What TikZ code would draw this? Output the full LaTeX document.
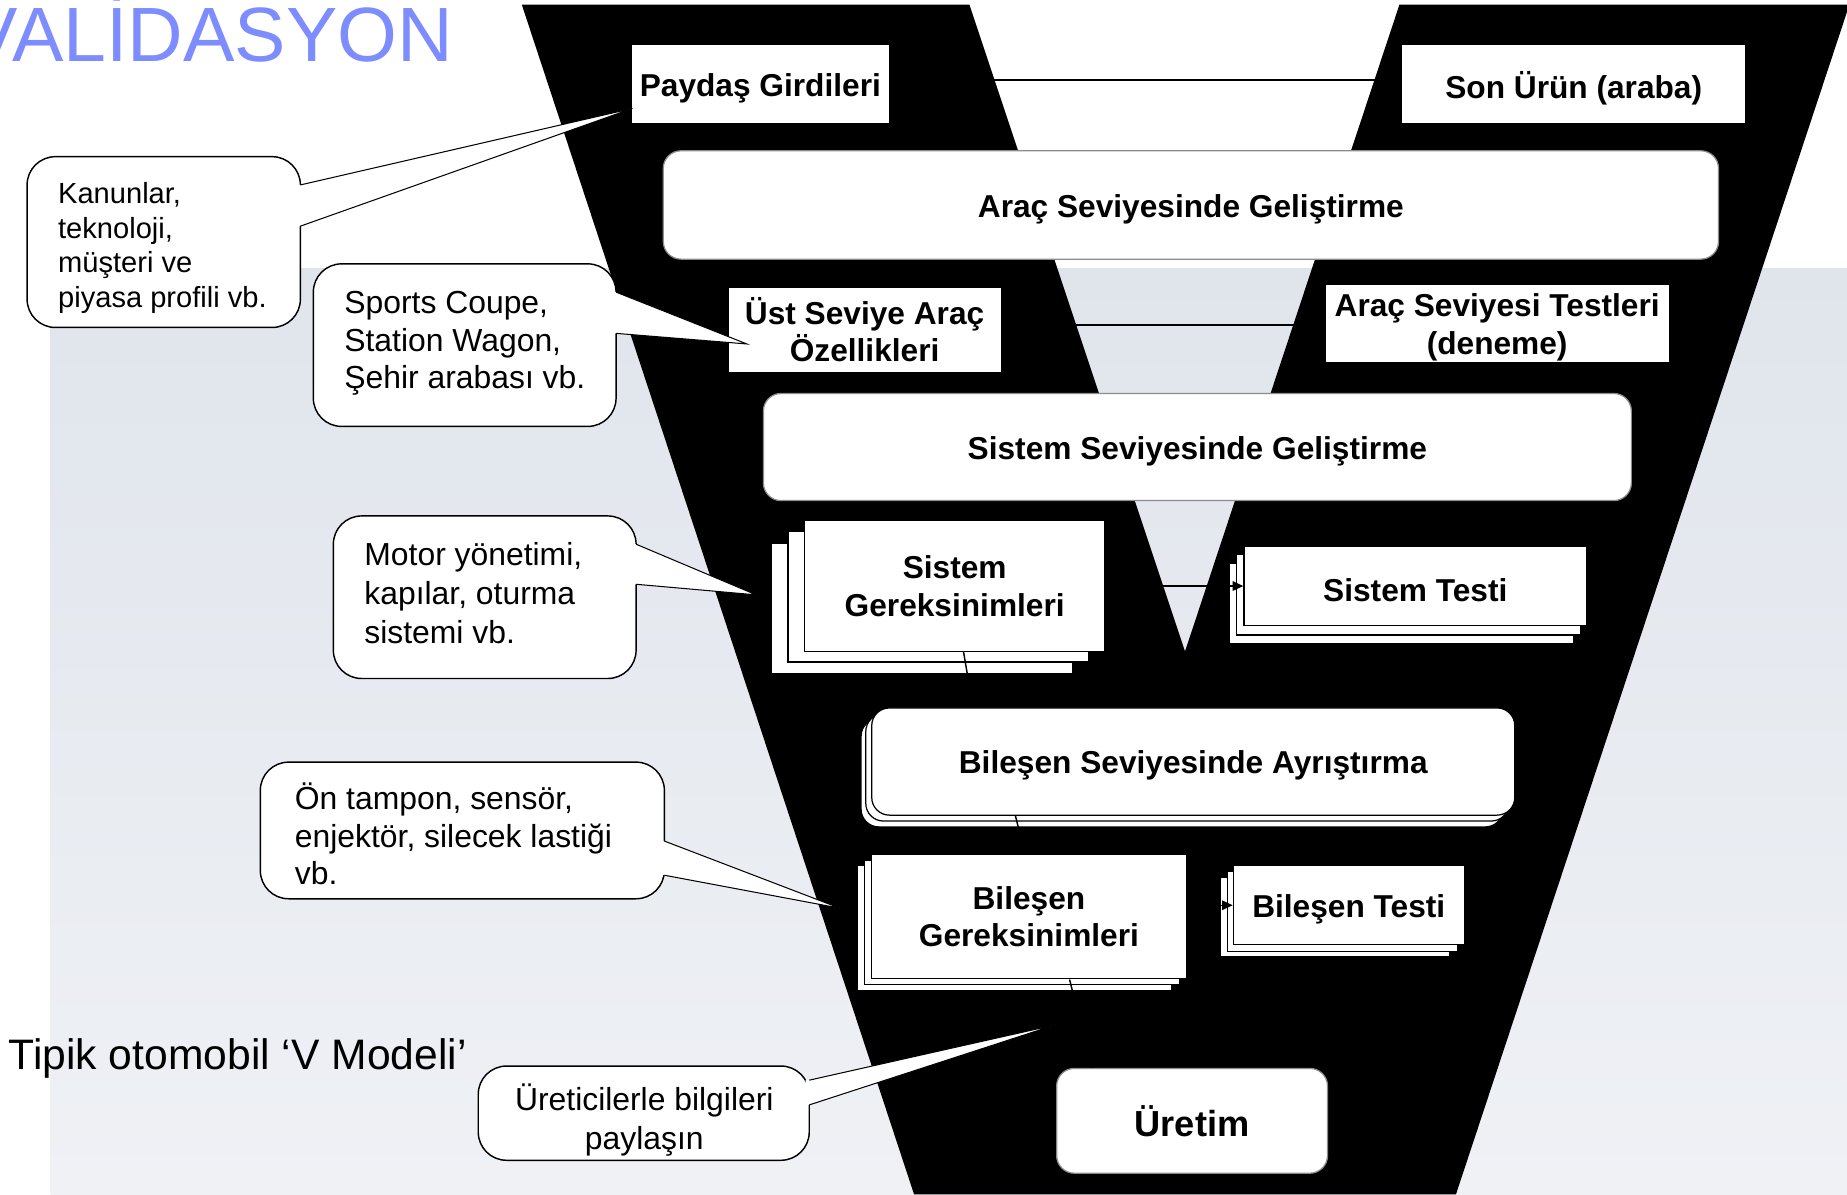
\documentclass[tikz,border=0pt]{standalone}
\usepackage{fontspec}
\setmainfont{Liberation Sans}
\usetikzlibrary{arrows.meta,calc}
\newdimen\pxu \pxu=0.02cm
\newcommand{\dn}[1]{\raisebox{-3.5\pxu}[\height][\depth]{#1}}
\definecolor{titleblue}{RGB}{125,140,255}
\definecolor{bgtop}{RGB}{224,229,236}
\definecolor{bgbot}{RGB}{239,241,245}
\tikzset{
  lbl/.style={font=\fontsize{15.3}{18.1}\selectfont\bfseries},
  sqbox/.style={draw=black, line width=0.6pt, fill=white, inner sep=0pt, align=center, lbl},
  rbox/.style={sqbox, draw=black!45, rounded corners=0.3cm},
  layer/.style={draw=black, line width=0.6pt, fill=white},
  conn/.style={draw=black, line width=0.7pt},
  wedge/.style={draw=black, line width=0.5pt, line join=miter},
  arr/.style={conn, -{Triangle[length=0.18cm,width=0.16cm]}},
  bubble/.style={draw=black, line width=0.7pt, fill=white, rounded corners=0.48cm},
  ctext/.style={font=\fontsize{15.4}{18.1}\selectfont, align=left, inner sep=0pt, anchor=west},
}
% #1 left, #2 top, #3 right, #4 bottom, #5 wedge top y, #6 wedge bottom y, #7 tip coordinate
\newcommand{\mycallout}[7]{%
  \draw[bubble] (#1,#2) rectangle (#3,#4);
  \fill[white] (#3-3,#5) -- (#3,#5) -- (#7) -- (#3,#6) -- (#3-3,#6) -- cycle;
  \draw[wedge] (#3,#5) -- (#7) -- (#3,#6);
}
\begin{document}
\begin{tikzpicture}[x=0.02cm, y=-0.02cm]
\useasboundingbox (0,0) rectangle (1568,1014);
\clip (0,0) rectangle (1568,1014);
\fill[white] (0,0) rectangle (1568,1014);
\shade[top color=bgtop, bottom color=bgbot] (43,228) rectangle (1568,1014);
% black V
\fill[black] (443,4) -- (823,4) -- (1006,553) -- (1188,4) -- (1570,4) -- (1236,1014) -- (776,1014) -- cycle;
% titles
\node[font=\fontsize{37.2}{40}\selectfont, text=titleblue, inner sep=0pt, anchor=base east] (title) at (385,52) {VALİDASYON};
\node[font=\fontsize{20.6}{24}\selectfont, inner sep=0pt, anchor=base west] (caption) at (7,908) {Tipik otomobil ‘V Modeli’};
% single boxes
\node[sqbox, minimum width=4.38cm, minimum height=1.34cm] (paydas) at (645.5,71.5) {\dn{Paydaş Girdileri}};
\node[sqbox, minimum width=5.84cm, minimum height=1.34cm] (sonurun) at (1336,71.5) {\dn{Son Ürün (araba)}};
\node[rbox, minimum width=17.92cm, minimum height=1.84cm] (aracgel) at (1011,174) {\dn{Araç Seviyesinde Geliştirme}};
\node[sqbox, minimum width=4.64cm, minimum height=1.44cm] (ust) at (734,280) {Üst Seviye Araç\\Özellikleri};
\node[sqbox, minimum width=5.84cm, minimum height=1.34cm] (testler) at (1271,274.5) {\dn{Araç Seviyesi Testleri}\\\dn{(deneme)}};
\node[rbox, minimum width=14.74cm, minimum height=1.82cm] (sisgel) at (1016.5,379.5) {\dn{Sistem Seviyesinde Geliştirme}};
% Sistem Gereksinimleri stack
\draw[layer] (655,461) rectangle (911,572);
\draw[layer] (669,451) rectangle (924,562);
\node[sqbox, minimum width=5.1cm, minimum height=2.22cm] (sg) at (810.5,497.5) {Sistem\\ Gereksinimleri};
% Sistem Testi stack
\draw[layer] (1044,478) rectangle (1336,546);
\draw[layer] (1050,471) rectangle (1342,539);
\node[sqbox, minimum width=5.82cm, minimum height=1.34cm] (st) at (1201.5,497.5) {\dn{Sistem Testi}};
% Bilesen Seviyesinde stack
\draw[layer, rounded corners=0.3cm] (731,610) rectangle (1276,702);
\draw[layer, rounded corners=0.3cm] (735,606) rectangle (1281,697);
\node[rbox, draw=black, minimum width=10.92cm, minimum height=1.82cm] (bsa) at (1013,646.5) {\dn{Bileşen Seviyesinde Ayrıştırma}};
% Bilesen Gereksinimleri stack
\draw[layer] (728,735) rectangle (995,841);
\draw[layer] (734,730) rectangle (1001,836);
\node[sqbox, minimum width=5.34cm, minimum height=2.12cm] (bg) at (873.5,778) {Bileşen\\ Gereksinimleri};
% Bilesen Testi stack
\draw[layer] (1036,745) rectangle (1231,812);
\draw[layer] (1042,740) rectangle (1237,808);
\node[sqbox, minimum width=3.92cm, minimum height=1.34cm] (bt) at (1145,768.5) {\dn{Bileşen Testi}};
% Uretim
\node[rbox, minimum width=4.6cm, minimum height=1.78cm, font=\fontsize{17.5}{20}\selectfont\bfseries] (uretim) at (1012,951.5) {Üretim};
% connectors
\draw[conn] ([yshift=0.07cm]paydas.east) -- ([yshift=0.07cm]sonurun.west);
\draw[conn] ([yshift=-0.03cm]ust.east |- testler.west) -- ([yshift=-0.03cm]testler.west);
\draw[arr] (sg.east |- st.west) -- (st.west);
\draw[arr] ([xshift=0.15cm]sg.south) -- ([xshift=-3.74cm]bsa.north);
\draw[arr] ([xshift=-3.02cm]bsa.south) -- ([xshift=-0.07cm]bg.north);
\draw[arr] (bg.east |- bt.west) -- (bt.west);
\draw[conn] ([xshift=0.69cm]bg.south) -- ([xshift=-1.7cm]uretim.north);
% callouts
\coordinate (tipA) at (537,92);
\coordinate (tipB) at (634,292);
\coordinate (tipC) at (642,505);
\coordinate (tipD) at (713,771);
\coordinate (tipE) at (896,870);
\mycallout{23}{133}{255}{278}{157}{192}{tipA}
\node[ctext, font=\fontsize{14.06}{16.8}\selectfont] (kanun) at (49,210.5) {Kanunlar,\\teknoloji,\\müşteri ve\\piyasa profili vb.};
\mycallout{266}{224}{523}{362}{248}{283}{tipB}
\node[ctext, font=\fontsize{15.4}{18.3}\selectfont] (sports) at (292,291.5) {Sports Coupe,\\Station Wagon,\\Şehir arabası vb.};
\mycallout{283}{438}{540}{576}{462}{496}{tipC}
\node[ctext, font=\fontsize{15.4}{18.7}\selectfont] (motor) at (309,503.5) {Motor yönetimi,\\kapılar, oturma\\sistemi vb.};
\mycallout{221}{647}{564}{763}{714}{743}{tipD}
\node[ctext] (ontampon) at (250,708) {Ön tampon, sensör,\\enjektör, silecek lastiği\\vb.};
\mycallout{406}{905}{687}{985}{917}{938}{tipE}
\node[ctext, align=center, anchor=center, font=\fontsize{15.4}{18.7}\selectfont] (uretici) at (547,951) {Üreticilerle bilgileri\\paylaşın};
\end{tikzpicture}
\end{document}
